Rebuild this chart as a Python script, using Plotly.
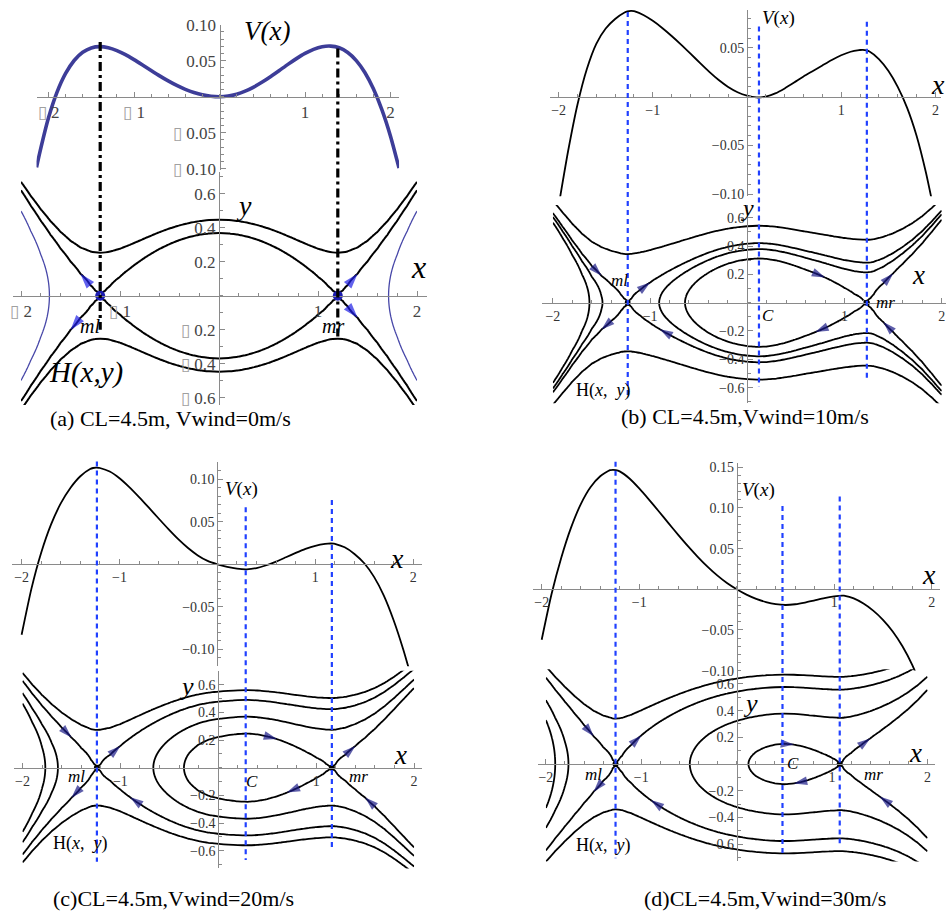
import numpy as np
import plotly.graph_objects as go

W, H = 946, 918
SERIF = "Liberation Serif"
AXC = "#8a8a8a"

# ---------------- potential V(x), sampled ----------------
# (a) potential curve shown in the upper plot
A_TOP_X = [-2.14, -2.1, -2.0, -1.9, -1.8, -1.7, -1.6, -1.5, -1.4, -1.3, -1.2, -1.1, -1.0, -0.9, -0.8,
           -0.7, -0.6, -0.5, -0.4, -0.3, -0.2, -0.1, 0.0, 0.1, 0.2, 0.3, 0.4, 0.5, 0.6, 0.7, 0.8, 0.9,
           1.0, 1.1, 1.2, 1.3, 1.4, 1.5, 1.6, 1.7, 1.8, 1.9, 2.0, 2.1]
A_TOP_V = [-0.098, -0.0767, -0.0294, 0.0063, 0.0323, 0.0503, 0.0617, 0.0677, 0.0695, 0.0680, 0.0641,
           0.0584, 0.0515, 0.0441, 0.0364, 0.0289, 0.0219, 0.0156, 0.0102, 0.0058, 0.0026, 0.0007, 0.0,
           0.0009, 0.0035, 0.0077, 0.0134, 0.0203, 0.0281, 0.0364, 0.0449, 0.0529, 0.0601, 0.0658,
           0.0694, 0.0703, 0.0679, 0.0614, 0.0502, 0.0336, 0.0109, -0.0184, -0.0549, -0.0992]
# (a) potential used for the phase portrait H(x, y) = y^2/2 + V(x)
A_PH_X = [-2.0, -1.9, -1.8, -1.7, -1.6, -1.5, -1.4, -1.3, -1.25, -1.2, -1.15, -1.1, -1.0, -0.9, -0.8,
          -0.7, -0.6, -0.5, -0.4, -0.3, -0.2, -0.1, 0.0, 0.1, 0.2, 0.3, 0.4, 0.5, 0.6, 0.7, 0.8, 0.9,
          1.0, 1.1, 1.15, 1.2, 1.25, 1.3, 1.4, 1.5, 1.6, 1.7, 1.8, 1.9, 2.0]
A_PH_V = [-0.12405, -0.0716, -0.0291, 0.00435, 0.02966, 0.04777, 0.0596, 0.06604, 0.06753, 0.068,
          0.06757, 0.06633, 0.06182, 0.05527, 0.04737, 0.03879, 0.03012, 0.02187, 0.0145, 0.00838,
          0.00379, 0.00096, 0.0, 0.00096, 0.00379, 0.00838, 0.0145, 0.02187, 0.03012, 0.03879, 0.04737,
          0.05527, 0.06182, 0.06633, 0.06757, 0.068, 0.06753, 0.06604, 0.0596, 0.04777, 0.02966,
          0.00435, -0.0291, -0.0716, -0.12405]

B_X = [-2.0, -1.9, -1.8, -1.7, -1.6, -1.5, -1.4, -1.3, -1.27, -1.23, -1.2, -1.19, -1.1, -1.0, -0.9,
       -0.8, -0.7, -0.6, -0.5, -0.4, -0.3, -0.2, -0.1, 0.0, 0.1, 0.2, 0.3, 0.4, 0.5, 0.6, 0.7, 0.8, 0.9,
       1.0, 1.1, 1.19, 1.2, 1.23, 1.27, 1.3, 1.4, 1.5, 1.6, 1.7, 1.8, 1.9, 2.0]
B_V = [-0.1122, -0.0562, -0.0082, 0.0284, 0.0542, 0.0700, 0.0797, 0.0864, 0.0875, 0.0880, 0.0877,
       0.0875, 0.0838, 0.0778, 0.0705, 0.0623, 0.0535, 0.0442, 0.0347, 0.0255, 0.0171, 0.0100, 0.0046,
       0.0010, -0.0008, 0.0001, 0.0034, 0.0085, 0.0145, 0.0207, 0.0264, 0.0321, 0.0377, 0.0425, 0.0461,
       0.0478, 0.0479, 0.0480, 0.0474, 0.0463, 0.0386, 0.0266, 0.0101, -0.0114, -0.0400, -0.0780, -0.1240]

C_X = [-2.0, -1.9, -1.8, -1.7, -1.6, -1.5, -1.4, -1.3, -1.27, -1.24, -1.21, -1.2, -1.1, -1.0, -0.9,
       -0.8, -0.7, -0.6, -0.5, -0.4, -0.3, -0.2, -0.1, 0.0, 0.1, 0.2, 0.3, 0.4, 0.5, 0.6, 0.7, 0.8, 0.9,
       1.0, 1.1, 1.13, 1.16, 1.19, 1.2, 1.3, 1.4, 1.5, 1.6, 1.7, 1.8, 1.9, 2.0]
C_V = [-0.0829, -0.0289, 0.0136, 0.0466, 0.0716, 0.0901, 0.1036, 0.1121, 0.1133, 0.1137, 0.1135,
       0.1133, 0.1091, 0.1013, 0.0909, 0.0791, 0.0666, 0.0539, 0.0414, 0.0296, 0.0192, 0.0105, 0.0040,
       0.0, -0.0030, -0.0051, -0.0059, -0.0044, -0.0011, 0.0032, 0.0083, 0.0134, 0.0181, 0.0218, 0.0241,
       0.0244, 0.0245, 0.0243, 0.0241, 0.0200, 0.0122, 0.0012, -0.0148, -0.0368, -0.0658, -0.1008, -0.1408]

D_X = [-2.0, -1.9, -1.8, -1.7, -1.6, -1.5, -1.4, -1.3, -1.27, -1.24, -1.2, -1.1, -1.0, -0.9, -0.8,
       -0.7, -0.6, -0.5, -0.4, -0.3, -0.2, -0.1, 0.0, 0.1, 0.2, 0.3, 0.4, 0.5, 0.6, 0.7, 0.8, 0.9, 1.0,
       1.05, 1.08, 1.1, 1.11, 1.2, 1.3, 1.4, 1.5, 1.6, 1.7, 1.8, 1.9, 2.0]
D_V = [-0.0620, -0.0065, 0.0385, 0.0755, 0.1045, 0.1255, 0.1390, 0.1465, 0.1470, 0.1466, 0.1450, 0.1363,
       0.1241, 0.1104, 0.0960, 0.0814, 0.0670, 0.0531, 0.0400, 0.0279, 0.0171, 0.0077, 0.0, -0.0066,
       -0.0118, -0.0157, -0.0183, -0.0193, -0.0184, -0.0163, -0.0136, -0.0109, -0.0088, -0.0081,
       -0.0078, -0.0079, -0.0080, -0.0112, -0.0175, -0.0262, -0.0375, -0.0518, -0.0700, -0.0930,
       -0.1230, -0.1620]

# equilibria (ml, C, mr) and extra energy levels of the drawn orbits
A_EQ = [-1.2, 1.2]
A_LEVELS = [0.1]
A_OUTER_LEVEL = 0.0
B_EQ = [-1.23, 0.12, 1.23]
B_LEVELS = [0.147, 0.071]
C_EQ = [-1.24, 0.28, 1.16]
C_LEVELS = [0.151, 0.062]
D_EQ = [-1.27, 0.48, 1.08]
D_LEVELS = [0.205, 0.052]

CAPTIONS = ["(a) CL=4.5m, Vwind=0m/s", "(b) CL=4.5m,Vwind=10m/s",
            "(c)CL=4.5m,Vwind=20m/s", "(d)CL=4.5m,Vwind=30m/s"]

# ---------------- axes geometry (pixel origin, pixels per unit, ranges) ----------------
AX = [
    ("a_top", dict(X0=219.5, kx=85.5, xr=(-2.14, 2.1), Y0=96.7, ky=720, yr=(-0.102, 0.10))),
    ("a_ph", dict(X0=219, kx=99, xr=(-2.08, 2.1), Y0=295.7, ky=170, yr=(-0.643, 0.728))),
    ("b_top", dict(X0=747, kx=94.2, xr=(-2.09, 2.06), Y0=96.7, ky=975, yr=(-0.102, 0.089))),
    ("b_ph", dict(X0=747.3, kx=97.2, xr=(-2.115, 2.04), Y0=302.7, ky=141.5, yr=(-0.71, 0.69))),
    ("c_top", dict(X0=217.4, kx=97.9, xr=(-2.1, 2.09), Y0=564.3, ky=850, yr=(-0.12, 0.12))),
    ("c_ph", dict(X0=218.3, kx=97.9, xr=(-2.09, 2.08), Y0=767.7, ky=138.5, yr=(-0.727, 0.70))),
    ("d_top", dict(X0=736.7, kx=97.5, xr=(-2.086, 2.085), Y0=589.3, ky=813, yr=(-0.1, 0.155))),
    ("d_ph", dict(X0=736.7, kx=95.4, xr=(-2.08, 2.08), Y0=764, ky=133.5, yr=(-0.73, 0.71))),
]
IDX = {name: i + 1 for i, (name, _) in enumerate(AX)}
CFG = dict(AX)


def ax_ids(name):
    i = IDX[name]
    return ("x" if i == 1 else f"x{i}"), ("y" if i == 1 else f"y{i}")


def paper_y(name, v):
    c = CFG[name]
    return 1 - (c["Y0"] - c["ky"] * v) / H


TOFU = "<span style='color:#a0a0a0'>\u25af</span>"
MINUS = "\u2212"


def fmt(v, nd, tofu):
    s = f"{abs(v):.{nd}f}" if nd else f"{abs(v):g}"
    if v < 0:
        return (TOFU + " " + s) if tofu else (MINUS + s)
    return s


TICKS = {
    "a_top": ([-2, -1, 1, 2], 0, [-0.10, -0.05, 0.05, 0.10], 2, 17, "#444", True, 0.2, 0.01),
    "a_ph": ([-2, -1, 1, 2], 0, [-0.6, -0.4, -0.2, 0.2, 0.4, 0.6], 1, 17, "#444", True, 0.2, 0.1),
    "b_top": ([-2, -1, 1, 2], 0, [-0.10, -0.05, 0.05], 2, 14, "#333", False, 0.2, 0.01),
    "b_ph": ([-2, -1, 1, 2], 0, [-0.6, -0.4, -0.2, 0.2, 0.4, 0.6], 1, 14, "#333", False, 0.2, 0.1),
    "c_top": ([-2, -1, 1, 2], 0, [-0.10, -0.05, 0.05, 0.10], 2, 14, "#333", False, 0.2, 0.01),
    "c_ph": ([-2, -1, 1, 2], 0, [-0.6, -0.4, -0.2, 0.2, 0.4, 0.6], 1, 14, "#333", False, 0.2, 0.1),
    "d_top": ([-2, -1, 1, 2], 0, [-0.10, -0.05, 0.05, 0.10, 0.15], 2, 14, "#333", False, 0.2, 0.01),
    "d_ph": ([-2, -1, 1, 2], 0, [-0.6, -0.4, -0.2, 0.2, 0.4, 0.6], 1, 14, "#333", False, 0.2, 0.1),
}

layout = dict(width=W, height=H, margin=dict(l=0, r=0, t=0, b=0), showlegend=False,
              paper_bgcolor="white", plot_bgcolor="rgba(0,0,0,0)")

for name, c in AX:
    i = IDX[name]
    xt, xnd, yt, ynd, fs, col, tofu, mdx, mdy = TICKS[name]
    xdom = [(c["X0"] + c["kx"] * c["xr"][0]) / W, (c["X0"] + c["kx"] * c["xr"][1]) / W]
    ydom = [1 - (c["Y0"] - c["ky"] * c["yr"][0]) / H, 1 - (c["Y0"] - c["ky"] * c["yr"][1]) / H]
    common = dict(showline=True, linecolor=AXC, linewidth=1, ticks="inside", ticklen=5, tickcolor=AXC,
                  tickwidth=1, showgrid=False, zeroline=False, fixedrange=True, automargin=False,
                  tickfont=dict(family=SERIF, size=fs, color=col), tickmode="array")
    layout["xaxis" if i == 1 else f"xaxis{i}"] = dict(
        common, domain=xdom, range=list(c["xr"]), anchor="free", position=1 - c["Y0"] / H,
        tickvals=xt, ticktext=[fmt(v, xnd, tofu) for v in xt],
        minor=dict(ticks="inside", ticklen=3, dtick=mdx, tick0=0, tickcolor=AXC, showgrid=False))
    layout["yaxis" if i == 1 else f"yaxis{i}"] = dict(
        common, domain=ydom, range=list(c["yr"]), anchor="free", position=c["X0"] / W,
        tickvals=yt, ticktext=[fmt(v, ynd, tofu) for v in yt],
        minor=dict(ticks="inside", ticklen=3, dtick=mdy, tick0=0, tickcolor=AXC, showgrid=False))

fig = go.Figure()
fig.update_layout(**layout)

# momentum grid for the energy surface
YS = np.round(np.arange(-170, 171) * 0.005, 4)


def contour(name, xs, vs, level, color="black", width=1.8):
    xa, ya = ax_ids(name)
    z = (YS[:, None] ** 2) / 2 + np.asarray(vs)[None, :]
    fig.add_trace(go.Contour(x=xs, y=YS, z=z, xaxis=xa, yaxis=ya, showscale=False, hoverinfo="skip",
                             contours=dict(type="constraint", operation="=", value=level),
                             line=dict(color=color, width=width, smoothing=1.0),
                             fillcolor="rgba(0,0,0,0)"))


def vcurve(name, xs, vs, color, width):
    xa, ya = ax_ids(name)
    fig.add_trace(go.Scatter(x=xs, y=vs, xaxis=xa, yaxis=ya, mode="lines", hoverinfo="skip",
                             line=dict(color=color, width=width, shape="spline", smoothing=0.6)))


def vat(xs, vs, x):
    return vs[xs.index(x)]


def arrows(name, xs, vs, items, levels, color, size):
    # each arrow sits on the orbit of energy levels[li]; it points from x0 towards x1
    xa, ya = ax_ids(name)
    for x0, x1, side, li in items:
        h = levels[li]
        y0 = side * np.sqrt(max(2 * (h - vat(xs, vs, x0)), 0))
        y1 = side * np.sqrt(max(2 * (h - vat(xs, vs, x1)), 0))
        fig.add_trace(go.Scatter(x=[x0, x1], y=[y0, y1], xaxis=xa, yaxis=ya, mode="markers",
                                 hoverinfo="skip",
                                 marker=dict(symbol="arrow", size=[0, size], color=color,
                                             angleref="previous", line=dict(width=0))))


def dots(name, pts, color, size):
    xa, ya = ax_ids(name)
    fig.add_trace(go.Scatter(x=pts, y=[0] * len(pts), xaxis=xa, yaxis=ya, mode="markers",
                             hoverinfo="skip", marker=dict(color=color, size=size)))


shapes = []


def vline(name_ph, name_top, x, vtop, ybot, color, dash, width):
    xa, _ = ax_ids(name_ph)
    shapes.append(dict(type="line", xref=xa, yref="paper", x0=x, x1=x,
                       y0=paper_y(name_top, vtop), y1=paper_y(name_ph, ybot),
                       line=dict(color=color, width=width, dash=dash)))


annots = []


def label(name, x, y, text, size, color="black"):
    xa, ya = ax_ids(name)
    annots.append(dict(xref=xa, yref=ya, x=x, y=y, text=text, showarrow=False,
                       xanchor="center", yanchor="middle",
                       font=dict(family=SERIF, size=size, color=color)))


# ---------------- panel (a) ----------------
vcurve("a_top", A_TOP_X, A_TOP_V, "#3d3d98", 3.6)
sep_a = vat(A_PH_X, A_PH_V, A_EQ[1]) - 1e-5
lev_a = [sep_a] + A_LEVELS
for lv in lev_a:
    contour("a_ph", A_PH_X, A_PH_V, lv, "black", 2.0)
for side in (-1, 1):
    sub = [i for i, x in enumerate(A_PH_X) if side * x >= 1.4]
    contour("a_ph", [A_PH_X[i] for i in sub], [A_PH_V[i] for i in sub], A_OUTER_LEVEL, "#4747a8", 1.3)
for x, vt, yb in zip(A_EQ, [0.076, 0.067], [-0.20, -0.24]):
    vline("a_ph", "a_top", x, vt, yb, "black", "9px,4px,3px,4px", 3.2)
arrows("a_ph", A_PH_X, A_PH_V, [(-1.3, -1.4, 1, 0), (-1.4, -1.5, -1, 0), (1.3, 1.4, 1, 0), (1.3, 1.4, -1, 0)],
       lev_a, "#1f1fe6", 16)
dots("a_ph", A_EQ, "#1c1cb0", 10)
label("a_top", 0.55, 0.091, "<i>V(x)</i>", 27)
label("a_top", 2.17, 0.040, "<i>x</i>", 32)
label("a_ph", 0.25, 0.53, "<i>y</i>", 28)
label("a_ph", 2.02, 0.17, "<i>x</i>", 32)
label("a_ph", -1.30, -0.18, "<i>ml</i>", 20)
label("a_ph", 1.15, -0.18, "<i>mr</i>", 20)
label("a_ph", -1.34, -0.45, "<i>H(x,y)</i>", 29)

# ---------------- panels (b)-(d) ----------------
BLUE = "#2040ff"
for key, xs, vs, eqs, lev, top_ext, arr in [
    ("b", B_X, B_V, B_EQ, B_LEVELS,
     [(0.087, -0.664), (0.072, -0.594), (0.077, -0.534)],
     [(-1.6, -1.5, 1, 0), (-1.4, -1.5, -1, 0), (-1.1, -1.0, 1, 0), (-0.8, -0.9, -1, 0),
      (0.7, 0.8, 1, 1), (0.8, 0.7, -1, 1), (1.4, 1.5, 1, 1), (1.5, 1.4, -1, 1)]),
    ("c", C_X, C_V, C_EQ, C_LEVELS,
     [(0.121, -0.679), (0.067, -0.666), (0.0756, -0.594)],
     [(-1.6, -1.5, 1, 0), (-1.4, -1.5, -1, 0), (-1.1, -1.0, 1, 0), (-0.8, -0.9, -1, 0),
      (0.5, 0.6, 1, 1), (0.8, 0.7, -1, 1), (1.3, 1.4, 1, 1), (1.6, 1.5, -1, 1)]),
    ("d", D_X, D_V, D_EQ, D_LEVELS,
     [(0.157, -0.706), (0.1025, -0.68), (0.114, -0.594)],
     [(-1.6, -1.5, 1, 0), (-1.1, -1.0, 1, 0), (-1.4, -1.5, -1, 0), (-0.8, -0.9, -1, 0),
      (0.5, 0.6, 1, 1), (0.7, 0.6, -1, 1), (1.3, 1.4, 1, 1), (1.6, 1.5, -1, 1)]),
]:
    vcurve(f"{key}_top", xs, vs, "black", 1.8)
    seps = [vat(xs, vs, eqs[0]) - 1e-5, vat(xs, vs, eqs[2]) - 1e-5]
    for lv in [lev[0], seps[0], lev[1], seps[1]]:
        contour(f"{key}_ph", xs, vs, lv)
    for x, (vt, yb) in zip(eqs, top_ext):
        vline(f"{key}_ph", f"{key}_top", x, vt, yb, BLUE, "5px,4px", 2.2)
    arrows(f"{key}_ph", xs, vs, arr, seps, "#1a1a86", 14)
    dots(f"{key}_ph", [eqs[0], eqs[2]], "black", 6)

HXY = "H(<i>x</i>,  <i>y</i>)"
VX = "<i>V</i>(<i>x</i>)"
label("b_top", 0.33, 0.081, VX, 19)
label("b_top", 2.03, 0.013, "<i>x</i>", 28)
label("b_ph", 0.0, 0.667, "<i>y</i>", 24)
label("b_ph", 1.76, 0.196, "<i>x</i>", 27)
label("b_ph", -1.31, 0.16, "<i>ml</i>", 17)
label("b_ph", 1.42, 0.0, "<i>mr</i>", 17)
label("b_ph", 0.216, -0.087, "<i>C</i>", 17)
label("b_ph", -1.48, -0.617, HXY, 18)

label("c_top", 0.25, 0.089, VX, 19)
label("c_top", 1.83, 0.007, "<i>x</i>", 28)
label("c_ph", -0.32, 0.585, "<i>y</i>", 26)
label("c_ph", 1.86, 0.092, "<i>x</i>", 27)
label("c_ph", -1.45, -0.065, "<i>ml</i>", 17)
label("c_ph", 1.43, -0.065, "<i>mr</i>", 17)
label("c_ph", 0.34, -0.10, "<i>C</i>", 17)
label("c_ph", -1.41, -0.55, HXY, 18)

label("d_top", 0.22, 0.122, VX, 19)
label("d_top", 1.97, 0.0176, "<i>x</i>", 28)
label("d_ph", 0.14, 0.455, "<i>y</i>", 26)
label("d_ph", 1.87, 0.08, "<i>x</i>", 27)
label("d_ph", -1.50, -0.082, "<i>ml</i>", 17)
label("d_ph", 1.43, -0.082, "<i>mr</i>", 17)
label("d_ph", 0.59, 0.005, "<i>C</i>", 17)
label("d_ph", -1.40, -0.607, HXY, 18)

for (cx, cy), txt in zip([(170, 418), (745, 417), (173, 898), (765, 898)], CAPTIONS):
    annots.append(dict(xref="paper", yref="paper", x=cx / W, y=1 - cy / H, text=txt, showarrow=False,
                       xanchor="center", yanchor="middle",
                       font=dict(family=SERIF, size=22, color="black")))

fig.update_layout(shapes=shapes, annotations=annots)
fig.write_html("out.html")
